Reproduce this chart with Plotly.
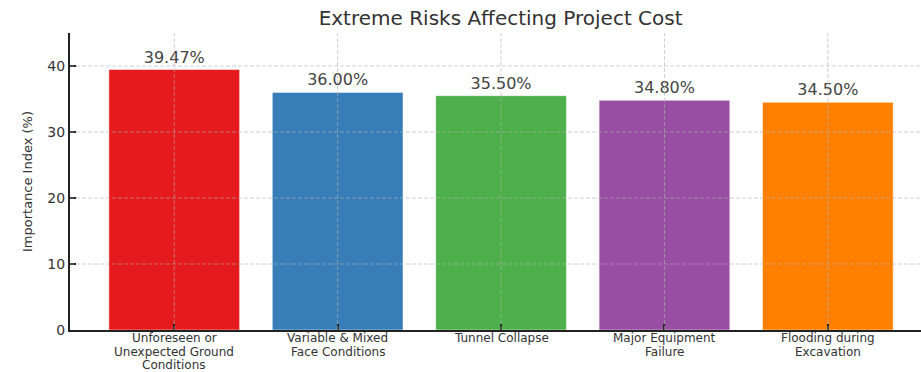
import plotly.graph_objects as go

categories = [
    "Unforeseen or<br>Unexpected Ground<br>Conditions",
    "Variable & Mixed<br>Face Conditions",
    "Tunnel Collapse",
    "Major Equipment<br>Failure",
    "Flooding during<br>Excavation",
]
values = [39.47, 36.00, 35.50, 34.80, 34.50]
colors = ["#e41a1c", "#377eb8", "#4daf4a", "#984ea3", "#ff7f00"]
y_ticks = [0, 10, 20, 30, 40]

FONT = "DejaVu Sans"
xpos = list(range(len(categories)))

fig = go.Figure()
fig.add_trace(go.Bar(
    x=xpos, y=values, width=0.8,
    marker=dict(color=colors, line=dict(color="rgba(255,255,255,0.5)", width=1)),
    text=[f"{v:.2f}%" for v in values], textposition="outside",
    textfont=dict(family=FONT, size=16, color="#444444"),
    cliponaxis=False, showlegend=False,
))

grid_col = "rgba(176,176,176,0.6)"
shapes = []
for xv in xpos:
    shapes.append(dict(type="line", xref="x", yref="paper", x0=xv, x1=xv, y0=0, y1=1,
                       line=dict(color=grid_col, width=1, dash="4px,2px"), layer="above"))
for yv in y_ticks[1:]:
    shapes.append(dict(type="line", xref="paper", yref="y", x0=0, x1=1, y0=yv, y1=yv,
                       line=dict(color=grid_col, width=1, dash="4px,2px"), layer="above"))

annotations = []
for xv, cat in zip(xpos, categories):
    for i, line in enumerate(cat.split("<br>")):
        annotations.append(dict(x=xv, xref="x", y=0, yref="paper", yanchor="middle",
                                yshift=-(8 + 13.5 * i), text=line, showarrow=False,
                                borderpad=0,
                                font=dict(family=FONT, size=12, color="#333333")))

fig.update_layout(
    width=921, height=372,
    margin=dict(l=70, r=0, t=33, b=42),
    paper_bgcolor="white", plot_bgcolor="white",
    title=dict(text="Extreme Risks Affecting Project Cost", x=0.506, xref="paper",
               y=1 - 18 / 372, yref="container", xanchor="center", yanchor="middle",
               font=dict(family=FONT, size=20, color="#333333")),
    xaxis=dict(range=[-0.638, 4.57], tickvals=xpos, ticktext=[""] * len(xpos),
               showgrid=False, zeroline=False, showline=True, linecolor="#222222",
               linewidth=2, ticks="inside", ticklen=6, tickcolor="#222222", tickwidth=1.5),
    yaxis=dict(range=[0, 45], tickvals=y_ticks, showgrid=False, zeroline=False,
               showline=True, linecolor="#222222", linewidth=2, ticks="inside",
               ticklen=6, tickcolor="#222222", tickwidth=1.5,
               tickfont=dict(family=FONT, size=14, color="#333333"),
               title=dict(text="Importance Index (%)", standoff=12,
                          font=dict(family=FONT, size=13, color="#333333"))),
    shapes=shapes, annotations=annotations,
)

fig.write_html("out.html")
